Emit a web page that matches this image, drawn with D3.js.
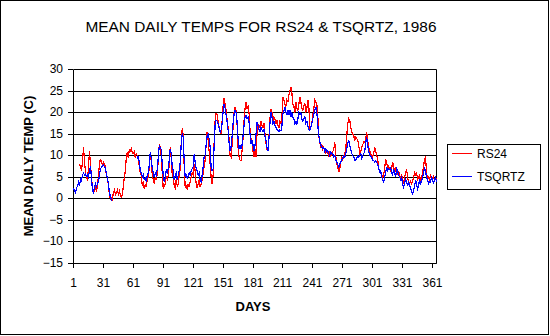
<!DOCTYPE html>
<html><head><meta charset="utf-8">
<script src="https://cdn.jsdelivr.net/npm/d3@7"></script>
<style>
html,body{margin:0;padding:0;background:#fff;}
text{font-family:"Liberation Sans",Arial,sans-serif;fill:#000;}
</style></head>
<body>
<svg id="chart" width="550" height="336"></svg>
<script>
const title = "MEAN DAILY TEMPS FOR RS24 & TSQRTZ, 1986";
const yTitle = "MEAN DAILY TEMP (C)";
const xTitle = "DAYS";
const seriesNames = ["RS24", "TSQRTZ"];
const seriesColors = ["#ff0000", "#0000ff"];
const yTicks = [30, 25, 20, 15, 10, 5, 0, -5, -10, -15];
const xTickLabels = [1, 31, 61, 91, 121, 151, 181, 211, 241, 271, 301, 331, 361];
const N = null;
// RS24 daily means, days 1..365
const rs24 = [
 N,N,N,N,N,N,8.1,7.5,6.5,8.5,
 11.9,9.0,6.0,5.0,4.5,7.0,11.2,8.0,5.0,2.5,
 1.2,2.0,3.0,1.5,3.0,5.5,8.0,9.3,8.5,8.0,
 8.5,8.0,7.5,5.5,5.0,3.0,1.0,0.0,0.2,-0.2,
 1.5,2.0,1.0,1.5,2.0,1.0,1.8,0.8,0.4,1.0,
 3.0,5.0,6.6,9.7,10.9,9.5,11.6,10.8,11.9,10.5,
 10.5,11.0,9.5,10.5,10.0,9.0,7.5,6.0,5.5,3.0,
 4.0,2.3,3.5,2.7,4.5,5.0,7.5,10.9,8.5,5.5,
 4.5,3.5,5.0,4.3,6.0,9.0,12.6,12.0,10.0,6.0,
 2.3,3.0,3.5,5.0,4.5,5.5,8.0,11.9,9.5,5.5,
 5.0,3.0,2.5,4.5,3.0,3.5,5.5,7.0,13.0,16.3,
 15.0,7.5,2.7,3.0,2.3,3.5,2.7,4.0,5.0,6.0,
 5.5,8.0,6.5,3.5,2.5,3.5,4.5,2.7,3.5,4.5,
 6.0,7.4,9.0,12.5,15.5,13.6,11.0,8.0,5.0,3.5,
 5.5,13.0,18.0,19.8,19.6,18.0,16.5,15.9,15.0,18.0,
 21.5,23.3,22.0,20.5,18.5,16.7,14.0,10.0,9.7,12.5,
 16.5,20.0,21.3,20.5,17.5,12.0,9.7,9.0,8.9,11.0,
 14.0,18.0,21.0,22.5,21.0,21.5,20.0,15.9,14.0,13.5,
 11.0,9.7,11.5,9.7,15.0,17.4,17.0,16.5,18.0,17.0,
 16.5,17.5,15.0,13.0,11.5,11.2,14.5,18.5,20.9,20.0,
 18.2,19.0,18.5,17.5,18.2,17.0,16.5,18.0,17.5,19.0,
 23.6,22.9,22.0,21.5,23.0,22.5,24.0,25.0,26.0,24.5,
 22.0,21.5,20.0,22.5,21.0,20.5,22.0,23.6,22.5,21.0,
 20.5,21.5,22.0,20.0,21.0,22.9,21.5,16.0,16.5,17.5,
 19.5,21.0,22.9,22.5,22.0,19.0,14.5,13.0,12.0,12.5,
 11.5,12.0,11.0,10.5,11.5,10.5,10.0,10.8,10.0,10.5,
 11.0,11.5,13.2,10.0,8.0,7.4,6.2,7.0,8.5,9.5,
 9.0,10.0,10.5,11.6,14.5,17.5,18.6,18.2,16.7,15.5,
 15.0,14.7,13.5,14.3,14.0,13.6,12.5,10.5,11.0,12.0,
 12.5,13.2,13.0,14.0,15.5,13.5,12.0,11.2,10.5,10.0,
 9.7,10.5,12.0,11.0,10.0,9.5,7.0,6.6,6.0,5.5,
 5.1,5.5,7.0,9.3,8.5,7.0,7.5,7.0,6.5,7.0,
 8.5,7.5,6.0,7.0,6.6,5.5,6.5,5.4,5.0,5.5,
 4.5,3.5,5.0,6.0,7.0,5.0,4.0,3.5,4.0,3.5,
 4.0,5.0,6.0,5.5,6.2,4.5,5.0,5.5,4.0,5.0,
 6.0,7.5,9.3,9.7,6.0,4.5,5.0,4.5,5.5,5.0,
 4.5,5.5,4.0,5.0,4.5
];
// TSQRTZ daily means, days 1..365
const tsqrtz = [
 2.5,2.0,1.5,2.5,3.0,3.8,3.0,4.5,4.2,5.5,
 6.0,5.5,5.8,5.2,5.5,5.0,6.5,7.5,5.0,2.0,
 1.5,2.5,3.5,2.8,3.5,4.0,5.5,6.8,7.4,7.6,
 7.8,7.5,7.0,5.8,4.8,3.5,1.5,0.5,-0.3,-0.2,
 N,N,N,N,N,N,N,N,N,N,
 N,N,N,N,N,N,N,N,N,N,
 N,N,N,N,9.3,10.0,8.5,6.6,6.0,5.0,
 5.5,4.5,4.8,4.0,5.5,6.0,8.0,10.8,9.5,7.0,
 6.0,5.0,6.0,5.5,7.0,9.5,12.2,11.8,11.5,8.0,
 5.5,4.0,5.0,6.6,6.0,7.0,9.0,11.6,10.5,7.5,
 6.5,4.5,5.5,6.0,4.5,5.5,6.5,8.5,12.5,15.0,
 14.5,9.0,5.0,5.5,4.8,5.2,6.0,5.5,6.5,7.0,
 7.5,10.3,8.5,7.0,6.5,5.5,6.0,4.5,4.0,5.5,
 7.5,9.7,10.0,12.5,14.7,15.0,14.0,12.0,7.4,6.5,
 7.0,12.0,17.0,18.2,18.0,17.5,16.5,15.5,16.0,17.5,
 20.0,22.0,21.0,19.5,18.0,16.0,13.0,11.2,12.0,14.5,
 17.5,19.5,20.5,20.0,18.0,14.0,11.6,12.5,11.5,12.5,
 14.5,17.0,19.0,19.4,18.5,19.0,18.0,15.0,12.8,13.5,
 12.5,11.2,12.5,15.0,17.8,17.0,16.0,15.5,16.5,16.0,
 15.5,16.0,14.5,13.6,12.0,11.2,14.0,17.5,20.2,19.0,
 17.4,18.0,17.0,16.5,16.0,15.9,15.5,16.0,15.8,17.0,
 19.8,20.5,21.3,20.0,19.5,20.5,19.5,20.5,19.0,20.0,
 19.0,18.5,17.4,18.0,17.4,18.5,20.0,19.5,20.0,18.5,
 18.0,18.5,19.0,17.5,18.0,17.0,16.0,15.9,16.5,17.5,
 18.6,19.5,20.5,21.3,20.0,17.0,14.7,13.2,12.5,12.0,
 11.6,11.8,11.0,11.5,10.9,11.2,10.5,10.0,10.9,10.5,
 10.5,9.8,10.0,9.0,8.5,8.0,7.4,8.0,8.5,9.0,
 9.5,10.0,9.7,10.5,11.5,12.8,13.6,12.5,11.5,10.5,
 10.0,9.7,9.0,8.9,9.5,10.0,9.7,10.0,10.5,9.5,
 10.0,10.5,11.0,13.0,14.3,12.5,11.0,10.0,10.0,9.5,
 9.0,8.9,8.5,8.8,8.5,8.0,7.0,6.2,6.5,5.0,
 4.5,3.9,5.0,6.0,7.4,6.5,7.0,6.8,7.2,6.0,
 5.5,7.0,6.0,5.0,7.0,6.5,5.5,5.0,4.5,5.0,
 3.5,2.7,3.5,4.5,3.9,3.0,4.0,3.1,2.5,1.5,
 1.2,1.8,3.0,4.3,3.5,2.3,3.0,4.5,3.5,4.0,
 5.0,6.0,7.0,6.5,5.0,4.5,3.5,4.0,3.8,5.0,
 4.5,3.5,4.7,5.0,4.0
];
const days = d3.range(1, 366);

const svg = d3.select("#chart");
svg.append("rect").attr("x",0.5).attr("y",0.5).attr("width",548).attr("height",334)
  .attr("fill","#fff").attr("stroke","#000").attr("stroke-width",1);

const x = d3.scaleLinear().domain([1, 365]).range([73.5, 436.5]);
const y = d3.scaleLinear().domain([-15, 30]).range([263.5, 69.5]);

// gridlines
svg.append("g").selectAll("line").data(yTicks).join("line")
  .attr("x1", 73.5).attr("x2", 436.5)
  .attr("y1", d => Math.round(y(d) - 0.5) + 0.5).attr("y2", d => Math.round(y(d) - 0.5) + 0.5)
  .attr("stroke", "#000").attr("stroke-width", 1);
// right border
svg.append("line").attr("x1",436.5).attr("x2",436.5).attr("y1",69.5).attr("y2",263.5)
  .attr("stroke","#000");

// y axis
const yAxis = d3.axisLeft(y).tickValues(yTicks).tickSize(5).tickPadding(5).tickFormat(d3.format("d"));
const gy = svg.append("g").attr("transform","translate(73,0)").call(yAxis);
gy.selectAll("text").attr("font-size", 12).attr("font-family","Liberation Sans, Arial, sans-serif").attr("fill","#000");
gy.selectAll("line,path").attr("stroke","#000");
gy.select(".domain").attr("d","M0.5,69.5V263.5");
gy.selectAll(".tick").attr("transform", d => `translate(0,${Math.round(y(d)-0.5)+0.5})`);

// x axis
const xAxis = d3.axisBottom(x).tickValues(xTickLabels).tickSize(5).tickPadding(10).tickFormat(d3.format("d"));
const gx = svg.append("g").attr("transform","translate(0,263)").call(xAxis);
gx.selectAll("text").attr("font-size", 12).attr("font-family","Liberation Sans, Arial, sans-serif").attr("fill","#000");
gx.selectAll("line,path").attr("stroke","#000");
gx.select(".domain").attr("d","M73.5,0.5H436.5");
gx.selectAll(".tick").attr("transform", d => `translate(${Math.round(x(d)-0.5)+0.5},0)`);

// series lines
const line = d3.line().defined(d => d[1] !== null).x(d => x(d[0])).y(d => y(d[1]));
[rs24, tsqrtz].forEach((arr, i) => {
  svg.append("path").datum(days.map((d, j) => [d, arr[j]]))
    .attr("d", line).attr("fill","none").attr("stroke", seriesColors[i])
    .attr("stroke-width", 1.2).attr("shape-rendering","crispEdges");
});

// titles
svg.append("text").attr("x", 261).attr("y", 32).attr("text-anchor","middle")
  .attr("font-size", 15.4).text(title);
svg.append("text").attr("transform","translate(33,166) rotate(-90)").attr("text-anchor","middle")
  .attr("font-size", 13).attr("font-weight","bold").text(yTitle);
svg.append("text").attr("x", 253).attr("y", 311).attr("text-anchor","middle")
  .attr("font-size", 13).attr("font-weight","bold").text(xTitle);

// legend
const lg = svg.append("g");
lg.append("rect").attr("x",447.5).attr("y",144.5).attr("width",93).attr("height",45)
  .attr("fill","#fff").attr("stroke","#000");
seriesNames.forEach((n, i) => {
  const ly = 153.5 + i * 23;
  lg.append("line").attr("x1",452).attr("x2",472).attr("y1",ly).attr("y2",ly)
    .attr("stroke", seriesColors[i]).attr("stroke-width",1);
  lg.append("text").attr("x",477).attr("y",ly+4.5).attr("font-size",12).text(n);
});
</script>
</body></html>
